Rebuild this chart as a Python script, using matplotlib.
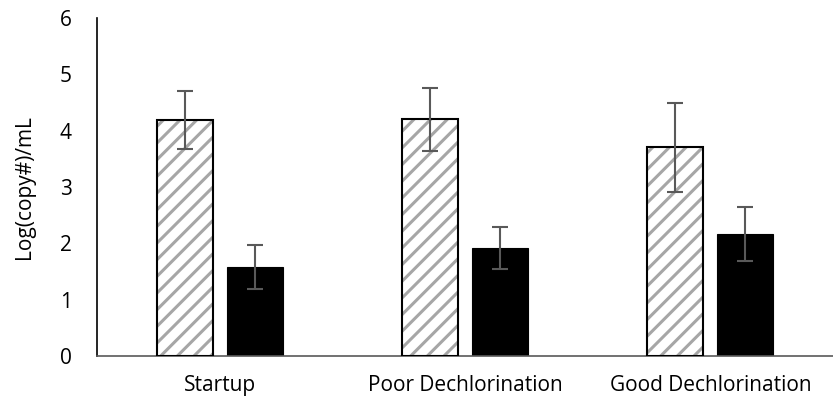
import numpy as np
import matplotlib
matplotlib.use('Agg')
import matplotlib.pyplot as plt

categories = ['Startup', 'Poor Dechlorination', 'Good Dechlorination']
hatched_vals = [4.19, 4.20, 3.71]
hatched_err = [0.51, 0.56, 0.79]
black_vals = [1.58, 1.92, 2.16]
black_err = [0.39, 0.37, 0.48]

plt.rcParams['font.family'] = ['Open Sans', 'DejaVu Sans']
plt.rcParams['hatch.linewidth'] = 2.2

fig = plt.figure(figsize=(8.33, 4.03), dpi=100)
ax = fig.add_axes([0.1164, 0.1166, 0.8836, 0.8385])

x = np.arange(len(categories))
w = 0.228
off = 0.143

# hatched bars: gray stripes, then black outline on top
ax.bar(x - off, hatched_vals, w, color='white', edgecolor='#a6a6a6',
       hatch='//', linewidth=0, zorder=2)
ax.bar(x - off, hatched_vals, w, fill=False, edgecolor='black',
       linewidth=1.5, zorder=3)
ax.bar(x + off, black_vals, w, color='black', edgecolor='black',
       linewidth=0.8, zorder=2)

ekw = dict(fmt='none', ecolor='#595959', elinewidth=1.5, capsize=5.5,
           capthick=1.5, zorder=4)
ax.errorbar(x - off, hatched_vals, yerr=hatched_err, **ekw)
ax.errorbar(x + off, black_vals, yerr=black_err, **ekw)

ax.set_xlim(-0.5, 2.5)
ax.set_ylim(0, 6)
ax.set_yticks(range(7))
ax.set_xticks(x)
ax.set_xticklabels(categories)
ax.tick_params(axis='both', length=0, labelsize=15, colors='black')
ax.tick_params(axis='x', pad=14)
ax.tick_params(axis='y', pad=18)
ax.set_ylabel('Log(copy#)/mL', fontsize=15, labelpad=18)

for s in ['top', 'right']:
    ax.spines[s].set_visible(False)
ax.spines['left'].set_color('black')
ax.spines['left'].set_linewidth(1.2)
ax.spines['bottom'].set_color('#595959')
ax.spines['bottom'].set_linewidth(1.2)

fig.savefig('out.png', dpi=100)
